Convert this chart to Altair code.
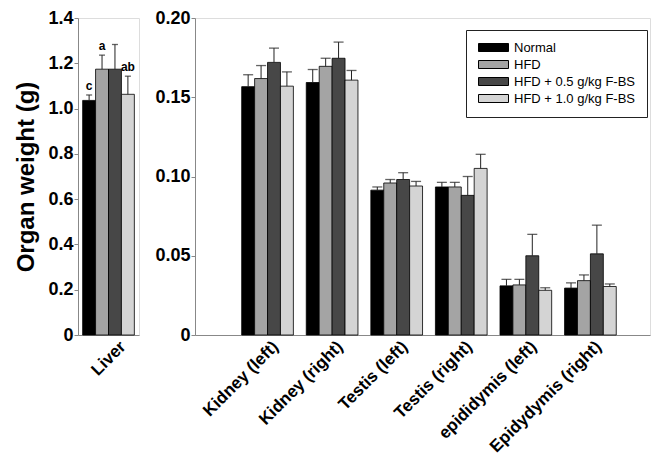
import altair as alt
import pandas as pd

FONT = "Liberation Sans"

series = ["Normal", "HFD", "HFD + 0.5 g/kg F-BS", "HFD + 1.0 g/kg F-BS"]
colors = ["#000000", "#a4a4a4", "#474747", "#d4d4d4"]

# Left panel (Liver)
liver_organ = ["Liver"]
liver_mean = [1.036, 1.174, 1.174, 1.063]
liver_err = [0.024, 0.062, 0.109, 0.080]
liver_letters = ["c", "a", "", "ab"]

# Right panel
organs = ["Kidney (left)", "Kidney (right)", "Testis (left)", "Testis (right)",
          "epididymis (left)", "Epidydymis (right)"]
normal_mean = [0.1567, 0.1593, 0.0914, 0.0934, 0.0310, 0.0296]
normal_err = [0.0075, 0.0082, 0.0020, 0.0029, 0.0041, 0.0033]
hfd_mean = [0.1618, 0.1695, 0.0959, 0.0934, 0.0316, 0.0343]
hfd_err = [0.0082, 0.0051, 0.0022, 0.0029, 0.0035, 0.0036]
low_mean = [0.1720, 0.1746, 0.0981, 0.0881, 0.0500, 0.0512]
low_err = [0.0090, 0.0102, 0.0043, 0.0119, 0.0135, 0.0181]
high_mean = [0.1570, 0.1608, 0.0940, 0.1051, 0.0282, 0.0306]
high_err = [0.0090, 0.0061, 0.0029, 0.0089, 0.0016, 0.0016]

left_ticks = [0, 0.2, 0.4, 0.6, 0.8, 1.0, 1.2, 1.4]
right_ticks = [0, 0.05, 0.10, 0.15, 0.20]

left_df = pd.DataFrame({
    "organ": liver_organ * 4,
    "series": series,
    "mean": liver_mean,
    "err": liver_err,
    "letter": liver_letters,
})
left_df["upper"] = left_df["mean"] + left_df["err"]

rows = []
for s, means, errs in zip(series, [normal_mean, hfd_mean, low_mean, high_mean],
                          [normal_err, hfd_err, low_err, high_err]):
    for o, m, e in zip(organs, means, errs):
        rows.append({"organ": o, "series": s, "mean": m, "err": e})
right_df = pd.DataFrame(rows)
right_df["upper"] = right_df["mean"] + right_df["err"]

color_scale = alt.Scale(domain=series, range=colors)
xoff = alt.XOffset("series:N", sort=series, scale=alt.Scale(paddingInner=0, paddingOuter=0))

x_axis = dict(title=None, labelAngle=-45, labelAlign="right", labelBaseline="top",
              ticks=False, labelFontSize=17, labelFontWeight="bold", labelPadding=3,
              labelOffset=9)

H = 317


def panel(df, cats, outer, inner, ydomain, yticks, fmt, ytitle, capsize, legend, W):
    x = alt.X("organ:N", sort=cats,
              scale=alt.Scale(paddingInner=inner, paddingOuter=outer),
              axis=alt.Axis(**x_axis))
    extra = ({"title": ytitle, "titleFontSize": 24, "titleFontWeight": "bold",
              "titlePadding": 9} if ytitle else {"title": None})
    yaxis = alt.Axis(values=yticks,
                     labelExpr=f"datum.value == 0 ? '0' : format(datum.value, '{fmt}')",
                     tickSize=4, labelPadding=1, labelFontSize=18, labelFontWeight="bold",
                     grid=False, **extra)
    y = alt.Y("mean:Q", scale=alt.Scale(domain=ydomain, nice=False, zero=True), axis=yaxis)
    base = alt.Chart(df)
    bars = base.mark_bar(stroke="black", strokeWidth=0.8).encode(
        x=x, xOffset=xoff, y=y,
        fill=alt.Fill("series:N", scale=color_scale, sort=series, legend=legend),
    )
    whisk = base.mark_rule(color="#222", strokeWidth=1).encode(
        x=alt.X("organ:N", sort=cats), xOffset=xoff, y=alt.Y("mean:Q"), y2="upper:Q")
    caps = base.mark_tick(color="#222", thickness=1.3, size=capsize).encode(
        x=alt.X("organ:N", sort=cats), xOffset=xoff, y=alt.Y("upper:Q"))
    layers = [bars, whisk, caps]
    if "letter" in df.columns:
        txt = base.mark_text(baseline="bottom", dy=-2, fontSize=12, fontWeight="bold",
                             font=FONT, color="black").encode(
            x=alt.X("organ:N", sort=cats), xOffset=xoff, y=alt.Y("upper:Q"), text="letter:N")
        layers.append(txt)
    return alt.layer(*layers).properties(width=W, height=H)


legend = alt.Legend(title=None, orient="none", legendX=271, legendY=12,
                    symbolType="M-3,-0.8H3V0.8H-3Z", symbolSize=100, symbolOffset=10,
                    symbolStrokeColor="black", symbolStrokeWidth=1,
                    labelFontSize=13, labelFont=FONT, labelOffset=14,
                    strokeColor="#222", fillColor="white", padding=11, rowPadding=3)

left = panel(left_df, liver_organ, 0.09, 0, [0, 1.4], left_ticks, ".1f",
             "Organ weight (g)", 6, None, 61)
right = panel(right_df, organs, 0.723, 0.4, [0, 0.2], right_ticks, ".2f",
              None, 10, legend, 455)

chart = alt.hconcat(left, right, spacing=56, bounds="flush").resolve_scale(
    x="independent", y="independent", fill="independent"
).resolve_legend(fill="independent").configure_view(
    stroke="#222", strokeWidth=1
).configure_axis(
    domainColor="#222", tickColor="#222", labelColor="black", titleColor="black",
    labelFont=FONT, titleFont=FONT
).configure(background="white", padding={"left": 6, "top": 0, "right": 0, "bottom": 0})

chart.save("out.html", embed_options={"renderer": "svg", "actions": False})
